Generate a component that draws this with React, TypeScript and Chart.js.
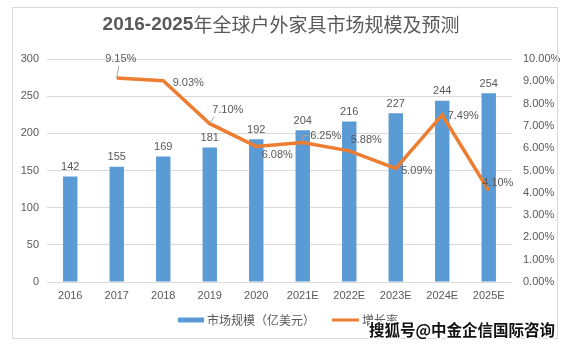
import React, { useEffect, useRef } from "react";
import { Chart, registerables } from "chart.js";

Chart.register(...registerables);

const categories = ["2016", "2017", "2018", "2019", "2020", "2021E", "2022E", "2023E", "2024E", "2025E"];
const marketSize = [142, 155, 169, 181, 192, 204, 216, 227, 244, 254];
const growthRate = [null, 9.15, 9.03, 7.1, 6.08, 6.25, 5.88, 5.09, 7.49, 4.1];
const leftTicks = [0, 50, 100, 150, 200, 250, 300];
const titleBold = "2016-2025";
const titleRest = "年全球户外家具市场规模及预测";
const legendBar = "市场规模（亿美元）";
const legendLine = "增长率";
const watermark = "搜狐号@中金企信国际咨询";

// label placement (style only): offset of label centre from point, and whether a leader line is drawn
const pctLabelStyle: { dx: number; dy: number; leader: boolean }[] = [
  { dx: 0, dy: 0, leader: false },
  { dx: 4, dy: -19, leader: true },
  { dx: 25, dy: 2, leader: false },
  { dx: 18, dy: -14, leader: true },
  { dx: 21, dy: 9, leader: false },
  { dx: 23, dy: -7, leader: true },
  { dx: 17, dy: -11, leader: false },
  { dx: 21, dy: 2, leader: false },
  { dx: 21, dy: 1, leader: false },
  { dx: 9, dy: -8, leader: false },
];

const TEXT = "#595959";
const FONT = "'Liberation Sans', Arial, sans-serif";
const CJK = "'Noto Sans CJK SC', sans-serif";

const decor = {
  id: "decor",
  afterDatasetsDraw(chart: any) {
    const ctx = chart.ctx as CanvasRenderingContext2D;
    ctx.save();
    // bar labels
    ctx.font = `11px ${FONT}`;
    ctx.fillStyle = TEXT;
    ctx.textAlign = "center";
    ctx.textBaseline = "bottom";
    const barMeta = chart.getDatasetMeta(0);
    barMeta.data.forEach((el: any, i: number) => {
      ctx.fillText(String(marketSize[i]), el.x, el.y - 4);
    });
    // line labels
    const lineMeta = chart.getDatasetMeta(1);
    ctx.textBaseline = "middle";
    lineMeta.data.forEach((el: any, i: number) => {
      const v = growthRate[i];
      if (v === null || v === undefined) return;
      const s = pctLabelStyle[i];
      const lx = el.x + s.dx;
      const ly = el.y + s.dy;
      const txt = v.toFixed(2) + "%";
      const w = ctx.measureText(txt).width;
      if (s.leader) {
        ctx.strokeStyle = "#A6A6A6";
        ctx.lineWidth = 1;
        ctx.beginPath();
        if (i === 1) {
          ctx.moveTo(el.x, el.y);
          ctx.lineTo(lx - 2, ly + 7);
        } else if (i === 3) {
          ctx.moveTo(el.x, el.y);
          ctx.lineTo(lx - w / 2 + 2, ly + 7);
        } else {
          ctx.moveTo(el.x, el.y - 2);
          ctx.lineTo(el.x, ly);
          ctx.lineTo(lx - w / 2 - 1, ly);
        }
        ctx.stroke();
      }
      ctx.fillStyle = TEXT;
      ctx.fillText(txt, lx, ly);
    });
    ctx.restore();
  },
  afterDraw(chart: any) {
    const ctx = chart.ctx as CanvasRenderingContext2D;
    ctx.save();
    // frame
    ctx.strokeStyle = "#D9D9D9";
    ctx.lineWidth = 1;
    ctx.strokeRect(12.5, 7.5, 545, 331);
    // title
    ctx.textBaseline = "middle";
    ctx.textAlign = "left";
    ctx.fillStyle = TEXT;
    const fb = `bold 19px ${FONT}`;
    const fr = `19px ${CJK}`;
    ctx.font = fb;
    const w1 = ctx.measureText(titleBold).width;
    ctx.font = fr;
    const w2 = ctx.measureText(titleRest).width;
    const tx = 281 - (w1 + w2) / 2;
    ctx.font = fb;
    ctx.fillText(titleBold, tx, 25);
    ctx.font = fr;
    ctx.fillText(titleRest, tx + w1, 25);
    // legend
    ctx.fillStyle = "#5B9BD5";
    ctx.fillRect(178, 317.5, 26, 5);
    ctx.font = `12px ${CJK}`;
    ctx.fillStyle = TEXT;
    ctx.fillText(legendBar, 207, 320);
    ctx.strokeStyle = "#ED7D31";
    ctx.lineWidth = 3;
    ctx.beginPath();
    ctx.moveTo(332, 320);
    ctx.lineTo(359, 320);
    ctx.stroke();
    ctx.fillStyle = TEXT;
    ctx.fillText(legendLine, 362, 320);
    // watermark
    ctx.font = `bold 15.5px ${CJK}`;
    ctx.textAlign = "right";
    ctx.lineJoin = "round";
    ctx.strokeStyle = "#FFFFFF";
    ctx.lineWidth = 3;
    ctx.strokeText(watermark, 555, 330);
    ctx.fillStyle = "#111111";
    ctx.fillText(watermark, 555, 330);
    ctx.restore();
  },
};

export default function App() {
  const ref = useRef<HTMLCanvasElement>(null);
  useEffect(() => {
    if (!ref.current) return;
    const chart = new Chart(ref.current, {
      type: "bar",
      data: {
        labels: categories,
        datasets: [
          {
            type: "bar",
            label: legendBar,
            data: marketSize,
            backgroundColor: "#5B9BD5",
            yAxisID: "y",
            barPercentage: 0.62,
            categoryPercentage: 0.5,
            order: 2,
          },
          {
            type: "line",
            label: legendLine,
            data: growthRate as any,
            borderColor: "#ED7D31",
            backgroundColor: "#ED7D31",
            borderWidth: 3.5,
            pointRadius: 0,
            tension: 0,
            yAxisID: "y1",
            order: 1,
          } as any,
        ],
      },
      options: {
        animation: false,
        responsive: false,
        layout: { padding: { top: 59, bottom: 36, left: 12, right: 0 } },
        plugins: { legend: { display: false }, title: { display: false }, tooltip: { enabled: false } },
        scales: {
          x: {
            grid: { display: false, drawTicks: false },
            border: { display: false },
            ticks: { color: TEXT, font: { size: 11, family: FONT }, padding: 7, maxRotation: 0, autoSkip: false },
            afterFit: (s: any) => { s.height = 30; },
          },
          y: {
            position: "left",
            min: 0,
            max: 300,
            afterBuildTicks: (s: any) => { s.ticks = leftTicks.map((v) => ({ value: v })); },
            grid: { color: "#D9D9D9", drawTicks: false, lineWidth: 1 },
            border: { display: false },
            ticks: { color: TEXT, font: { size: 11, family: FONT }, padding: 8 },
            afterFit: (s: any) => { s.width = 35; },
          },
          y1: {
            position: "right",
            min: 0,
            max: 10,
            ticks: {
              stepSize: 1,
              color: TEXT,
              font: { size: 11, family: FONT },
              padding: 11,
              callback: (v: any) => Number(v).toFixed(2) + "%",
            },
            grid: { display: false, drawTicks: false },
            border: { display: false },
            afterFit: (s: any) => { s.width = 56; },
          },
        },
      },
      plugins: [decor],
    });
    return () => chart.destroy();
  }, []);
  return (
    <div style={{ position: "fixed", left: 0, top: 0, width: 568, height: 348, background: "#fff" }}>
      <canvas ref={ref} width={568} height={348} style={{ width: 568, height: 348, display: "block" }} />
    </div>
  );
}
